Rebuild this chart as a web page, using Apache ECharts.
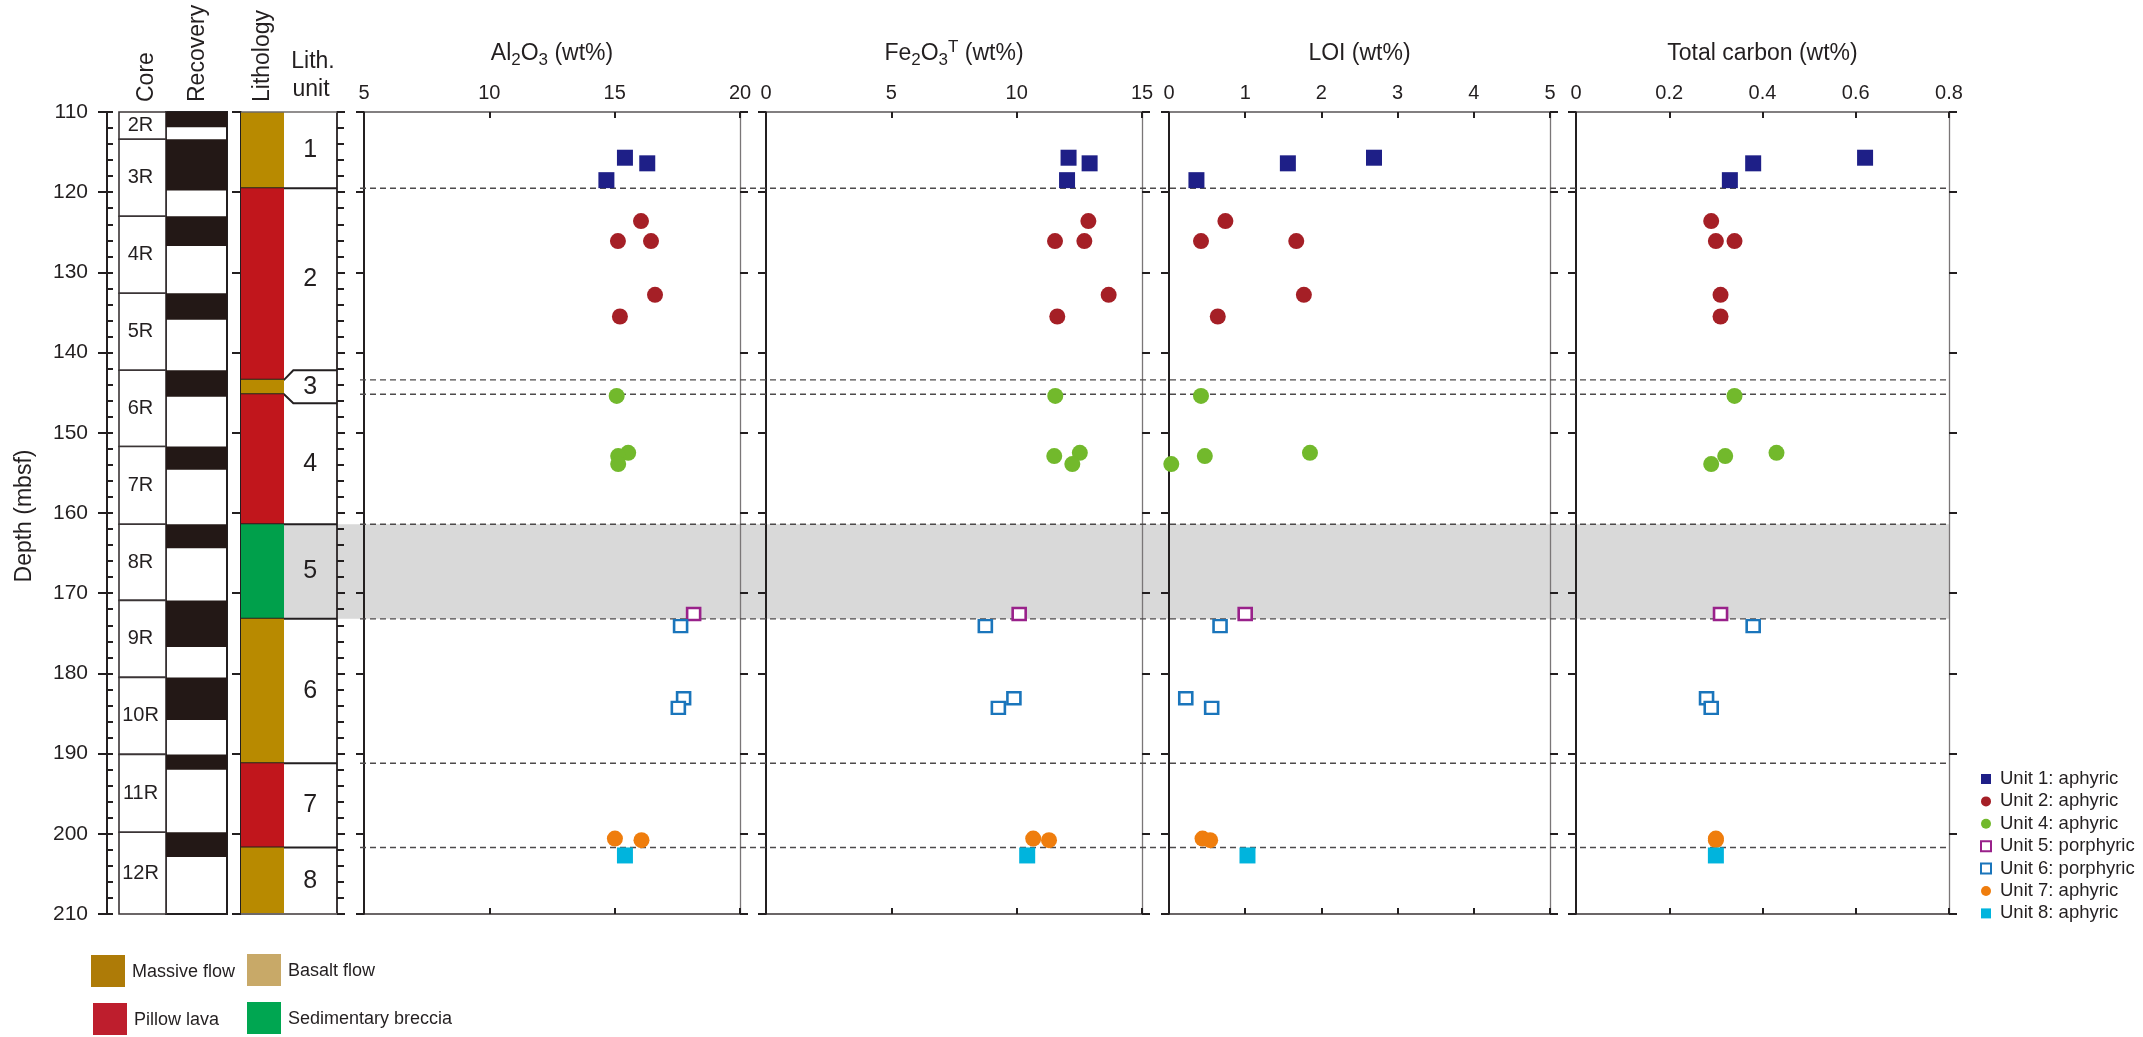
<!DOCTYPE html>
<html>
<head>
<meta charset="utf-8">
<title>Hole geochemistry downhole</title>
<script src="https://cdn.jsdelivr.net/npm/echarts@6/dist/echarts.min.js"></script>
<style>
  html, body { margin: 0; padding: 0; background: #fff; }
  #chart { width: 2143px; height: 1037px; }
</style>
</head>
<body>
<div id="chart"></div>
<script>
// ---- Cores and recovery (depths in mbsf) ----
const coreNames = ['2R', '3R', '4R', '5R', '6R', '7R', '8R', '9R', '10R', '11R', '12R'];
const coreTop = [110, 113.4, 123.0, 132.6, 142.2, 151.7, 161.4, 170.9, 180.5, 190.1, 199.8];
const coreBottom = [113.4, 123.0, 132.6, 142.2, 151.7, 161.4, 170.9, 180.5, 190.1, 199.8, 210];
const recoveredBottom = [111.9, 119.8, 126.7, 135.9, 145.5, 154.6, 164.4, 176.7, 185.8, 192.0, 202.9];

// ---- Lithologic units ----
const lithUnits = ['1', '2', '3', '4', '5', '6', '7', '8'];
const lithTop = [110, 119.5, 143.4, 145.2, 161.4, 173.2, 191.2, 201.7];
const lithBottom = [119.5, 143.4, 145.2, 161.4, 173.2, 191.2, 201.7, 210];
const lithType = ['Massive flow', 'Pillow lava', 'Massive flow', 'Pillow lava',
  'Sedimentary breccia', 'Massive flow', 'Pillow lava', 'Massive flow'];
// label box for the thin Unit 3 is widened into a callout
const unit3Callout = [142.2, 146.3];
// interval shaded across the geochemistry panels (Unit 5)
const shadedInterval = [161.4, 173.2];

// ---- Samples ----
const unitNames = ['Unit 1: aphyric', 'Unit 2: aphyric', 'Unit 4: aphyric', 'Unit 5: porphyric',
  'Unit 6: porphyric', 'Unit 7: aphyric', 'Unit 8: aphyric'];
const sampleUnit = [1, 1, 1, 2, 2, 2, 2, 2, 4, 4, 4, 4, 5, 6, 6, 6, 7, 7, 8];
const sampleDepth = [115.7, 116.4, 118.5, 123.6, 126.1, 126.1, 132.8, 135.5,
  145.4, 152.5, 152.9, 153.9, 172.6, 174.1, 183.1, 184.3, 200.6, 200.8, 202.7];
const al2o3 = [15.41, 16.30, 14.67, 16.05, 15.13, 16.45, 16.61, 15.21,
  15.08, 15.54, 15.14, 15.14, 18.15, 17.63, 17.75, 17.54, 15.01, 16.07, 15.41];
const fe2o3T = [12.07, 12.91, 12.01, 12.86, 11.53, 12.70, 13.67, 11.62,
  11.54, 12.52, 11.50, 12.22, 10.10, 8.75, 9.89, 9.27, 10.66, 11.29, 10.42];
const loi = [2.69, 1.56, 0.36, 0.74, 0.42, 1.67, 1.77, 0.64,
  0.42, 1.85, 0.47, 0.03, 1.00, 0.67, 0.22, 0.56, 0.44, 0.54, 1.03];
const totalCarbon = [0.62, 0.38, 0.33, 0.29, 0.30, 0.34, 0.31, 0.31,
  0.34, 0.43, 0.32, 0.29, 0.31, 0.38, 0.28, 0.29, 0.30, 0.30, 0.30];

// ---- Axis ticks ----
const depthRange = [110, 210];
const depthStep = 10;
const panelTitles = [
  'Al{sub|2}O{sub|3} (wt%)',
  'Fe{sub|2}O{sub|3}{sup|T} (wt%)',
  'LOI (wt%)',
  'Total carbon (wt%)'
];
const panelMin = [5, 0, 0, 0];
const panelMax = [20, 15, 5, 0.8];
const panelStep = [5, 5, 1, 0.2];
const panelValues = [al2o3, fe2o3T, loi, totalCarbon];

// ---- Styling ----
const FONT = '"Liberation Sans", Arial, Helvetica, sans-serif';
const INK = '#231f20';
const lithColors = {
  'Massive flow': '#b88a00',
  'Basalt flow': '#c8a968',
  'Pillow lava': '#c1161c',
  'Sedimentary breccia': '#00a04b'
};
const legendLithColors = {
  'Massive flow': '#ae7b07',
  'Basalt flow': '#c8a968',
  'Pillow lava': '#be1e2d',
  'Sedimentary breccia': '#00a651'
};
const unitStyles = {
  1: { symbol: 'rect', color: '#1e1f87', open: false },
  2: { symbol: 'circle', color: '#a51f26', open: false },
  4: { symbol: 'circle', color: '#72b92c', open: false },
  5: { symbol: 'rect', color: '#99218a', open: true },
  6: { symbol: 'rect', color: '#1a75bb', open: true },
  7: { symbol: 'circle', color: '#ef7d0d', open: false },
  8: { symbol: 'rect', color: '#00b4dd', open: false }
};
const unitIds = [1, 2, 4, 5, 6, 7, 8];

const TOP = 112, HEIGHT = 802;
const panelLeft = [364, 766, 1169, 1576];
const panelWidth = [376, 376, 381, 373];
const CORE_SPLIT = 0.435;   // core / recovery column split
const LITH_SPLIT = 0.448;   // colour column / unit label split

const chart = echarts.init(document.getElementById('chart'), null, { renderer: 'canvas' });

const grids = [
  { left: 284, width: 1666, top: TOP, height: HEIGHT },  // shaded band
  { left: 360, width: 1590, top: TOP, height: HEIGHT },  // unit boundaries
  { left: 119, width: 108, top: TOP, height: HEIGHT },   // core + recovery
  { left: 241, width: 96, top: TOP, height: HEIGHT }     // lithology
];
panelLeft.forEach((l, p) => grids.push({ left: l, width: panelWidth[p], top: TOP, height: HEIGHT }));

const hiddenX = (g) => ({ gridIndex: g, type: 'value', min: 0, max: 1, show: false });
const hiddenY = (g) => ({ gridIndex: g, type: 'value', min: depthRange[0], max: depthRange[1], inverse: true, show: false });
const depthAxisBase = (g) => ({
  gridIndex: g, type: 'value', min: depthRange[0], max: depthRange[1], interval: depthStep, inverse: true,
  splitLine: { show: false }, axisLabel: { show: false }
});

const xAxes = [hiddenX(0), hiddenX(1), hiddenX(2), hiddenX(3)];
const yAxes = [
  hiddenY(0), hiddenY(1),
  Object.assign(depthAxisBase(2), {
    position: 'left', offset: 12,
    axisLine: { show: true, onZero: false, lineStyle: { color: INK, width: 2 } },
    axisTick: { show: true, length: 9, lineStyle: { color: INK, width: 2 } },
    axisLabel: { show: true, fontSize: 21, color: INK, margin: 19, fontFamily: FONT }
  }),
  Object.assign(depthAxisBase(2), {
    position: 'left', offset: 12,
    axisLine: { show: false, onZero: false },
    axisTick: { show: true, inside: true, length: 6, lineStyle: { color: INK, width: 2 } },
    minorTick: { show: true, splitNumber: 5, length: 6, lineStyle: { color: INK, width: 2 } }
  }),
  Object.assign(depthAxisBase(3), {
    position: 'left',
    axisLine: { show: true, onZero: false, lineStyle: { color: INK, width: 2 } },
    axisTick: { show: true, length: 9, lineStyle: { color: INK, width: 2 } }
  }),
  Object.assign(depthAxisBase(3), {
    position: 'right',
    axisLine: { show: true, onZero: false, lineStyle: { color: '#3b3536', width: 2 } },
    axisTick: { show: true, length: 8, lineStyle: { color: INK, width: 2 } },
    minorTick: { show: true, splitNumber: 5, length: 7, lineStyle: { color: INK, width: 2 } }
  })
];

panelLeft.forEach((l, p) => {
  const g = 4 + p;
  xAxes.push({
    gridIndex: g, type: 'value', position: 'top',
    min: panelMin[p], max: panelMax[p], interval: panelStep[p],
    name: panelTitles[p], nameLocation: 'middle', nameGap: 43,
    nameTextStyle: {
      fontSize: 23, color: INK, fontFamily: FONT, lineHeight: 30,
      rich: {
        sub: { fontSize: 17, lineHeight: 17, verticalAlign: 'bottom', color: INK, fontFamily: FONT },
        sup: { fontSize: 17, lineHeight: 17, verticalAlign: 'top', color: INK, fontFamily: FONT }
      }
    },
    axisLine: { show: true, onZero: false, lineStyle: { color: '#5a5657', width: 1.5 } },
    axisTick: { show: true, inside: true, length: 6, lineStyle: { color: INK, width: 2 } },
    axisLabel: { show: true, fontSize: 20, color: INK, margin: 9, fontFamily: FONT },
    splitLine: { show: false }
  });
  xAxes.push({
    gridIndex: g, type: 'value', position: 'bottom',
    min: panelMin[p], max: panelMax[p], interval: panelStep[p],
    axisLine: { show: true, onZero: false, lineStyle: { color: '#3b3536', width: 1.5 } },
    axisTick: { show: true, inside: true, length: 6, lineStyle: { color: INK, width: 2 } },
    axisLabel: { show: false },
    splitLine: { show: false }
  });
  yAxes.push(Object.assign(depthAxisBase(g), {
    position: 'left',
    axisLine: { show: true, onZero: false, lineStyle: { color: INK, width: 2 } },
    axisTick: { show: true, length: 8, lineStyle: { color: INK, width: 2 } }
  }));
  yAxes.push(Object.assign(depthAxisBase(g), {
    position: 'right',
    axisLine: { show: true, onZero: false, lineStyle: { color: '#7a7677', width: 1.3 } },
    axisTick: { show: true, length: 8, lineStyle: { color: INK, width: 2 } }
  }));
});

const series = [];

// Shaded interval spanning the unit label column and all panels
series.push({
  type: 'custom', xAxisIndex: 0, yAxisIndex: 0, z: 0, silent: true,
  data: [[shadedInterval[0], shadedInterval[1]]],
  renderItem(params, api) {
    const a = api.coord([0, api.value(0)]);
    const b = api.coord([1, api.value(1)]);
    return { type: 'rect', shape: { x: a[0], y: a[1], width: b[0] - a[0], height: b[1] - a[1] },
      style: { fill: '#d9d9d9' } };
  }
});

// Dashed unit boundaries
series.push({
  type: 'custom', xAxisIndex: 1, yAxisIndex: 1, z: 1, silent: true,
  data: lithTop.slice(1).map(d => [0, d]),
  renderItem(params, api) {
    const a = api.coord([0, api.value(1)]);
    const b = api.coord([1, api.value(1)]);
    return { type: 'line', shape: { x1: a[0], y1: a[1], x2: b[0], y2: b[1] },
      style: { stroke: '#4d4a4b', lineWidth: 1.4, lineDash: [6, 4] } };
  }
});

// Core boxes and recovered intervals
series.push({
  type: 'custom', xAxisIndex: 2, yAxisIndex: 2, z: 3, silent: true,
  data: coreTop.map(t => [0, t]),
  renderItem(params, api) {
    const i = params.dataIndex;
    const a = api.coord([0, coreTop[i]]);
    const b = api.coord([CORE_SPLIT, coreBottom[i]]);
    const c = api.coord([CORE_SPLIT, coreTop[i]]);
    const d = api.coord([1, recoveredBottom[i]]);
    const children = [];
    if (i === 0) {
      const r0 = api.coord([CORE_SPLIT, depthRange[0]]);
      const r1 = api.coord([1, depthRange[1]]);
      children.push({ type: 'rect', shape: { x: r0[0], y: r0[1], width: r1[0] - r0[0], height: r1[1] - r0[1] },
        style: { fill: '#fff', stroke: INK, lineWidth: 2 } });
    }
    children.push({ type: 'rect', shape: { x: a[0], y: a[1], width: b[0] - a[0], height: b[1] - a[1] },
      style: { fill: '#fff', stroke: '#3b3536', lineWidth: 1.6 } });
    children.push({ type: 'rect', shape: { x: c[0], y: c[1], width: d[0] - c[0], height: d[1] - c[1] },
      style: { fill: '#231816' } });
    children.push({ type: 'text', x: (a[0] + b[0]) / 2 - 2, y: (a[1] + b[1]) / 2,
      style: { text: coreNames[i], fill: INK, font: '20px ' + FONT, align: 'center', verticalAlign: 'middle' } });
    return { type: 'group', children };
  }
});

// Lithology column and unit labels
series.push({
  type: 'custom', xAxisIndex: 3, yAxisIndex: 4, z: 3, silent: true,
  data: lithTop.map(t => [0, t]),
  renderItem(params, api) {
    const i = params.dataIndex;
    const a = api.coord([0, lithTop[i]]);
    const b = api.coord([LITH_SPLIT, lithBottom[i]]);
    const children = [];
    children.push({ type: 'rect', shape: { x: a[0], y: a[1], width: b[0] - a[0], height: b[1] - a[1] },
      style: { fill: lithColors[lithType[i]] } });
    const lineStyle = { stroke: INK, lineWidth: 2, fill: null };
    if (i === 0) {
      const l = api.coord([0, depthRange[0]]), r = api.coord([1, depthRange[0]]);
      children.push({ type: 'line', shape: { x1: l[0], y1: l[1], x2: r[0], y2: r[1] }, style: { stroke: '#6d6869', lineWidth: 1.5 } });
    }
    // bottom edge of this unit
    if (i === 1 || i === 2) {
      const edge = lithBottom[i];
      const tip = i === 1 ? unit3Callout[0] : unit3Callout[1];
      const pts = [api.coord([0, edge]), api.coord([LITH_SPLIT, edge]), api.coord([0.545, tip]), api.coord([1, tip])];
      children.push({ type: 'polyline', shape: { points: pts }, style: lineStyle });
    } else {
      const l = api.coord([0, lithBottom[i]]), r = api.coord([1, lithBottom[i]]);
      children.push({ type: 'line', shape: { x1: l[0], y1: l[1], x2: r[0], y2: r[1] },
        style: { stroke: i === lithTop.length - 1 ? '#6d6869' : INK, lineWidth: 2 } });
    }
    // label centred in its box (Unit 3 callout widens neighbouring boxes)
    let boxTop = lithTop[i], boxBottom = lithBottom[i];
    if (i === 1) boxBottom = unit3Callout[0];
    if (i === 3) boxTop = unit3Callout[1];
    const m = api.coord([0.72, (boxTop + boxBottom) / 2]);
    children.push({ type: 'text', x: m[0], y: m[1],
      style: { text: lithUnits[i], fill: INK, font: '25px ' + FONT, align: 'center', verticalAlign: 'middle' } });
    return { type: 'group', children };
  }
});

// Geochemistry scatter panels
panelValues.forEach((vals, p) => {
  unitIds.forEach((u, k) => {
    const st = unitStyles[u];
    const data = [];
    sampleUnit.forEach((su, j) => {
      if (su === u && vals[j] != null) data.push([vals[j], sampleDepth[j]]);
    });
    series.push({
      type: 'scatter', name: unitNames[k],
      xAxisIndex: 4 + 2 * p, yAxisIndex: 6 + 2 * p, z: 5,
      symbol: st.symbol,
      symbolSize: st.open ? [13, 12] : 16,
      itemStyle: st.open
        ? { color: '#ffffff', borderColor: st.color, borderWidth: 2.5, opacity: 1 }
        : { color: st.color, borderWidth: 0, opacity: 1 },
      emphasis: { disabled: true },
      data
    });
  });
});

// Header texts and lithology key
const txt = (text, x, y, opts) => ({
  type: 'text', x, y, rotation: opts.rotation || 0, silent: true,
  style: Object.assign({ text, fill: INK, font: (opts.size || 23) + 'px ' + FONT,
    align: opts.align || 'left', verticalAlign: opts.va || 'middle' }, opts.style || {})
});
const graphics = [
  txt('Core', 147, 102, { rotation: Math.PI / 2 }),
  txt('Recovery', 198, 102, { rotation: Math.PI / 2 }),
  txt('Lithology', 263, 102, { rotation: Math.PI / 2 }),
  txt('Lith.', 313, 62, { align: 'center' }),
  txt('unit', 311, 90, { align: 'center' }),
  txt('Depth (mbsf)', 25, 516, { rotation: Math.PI / 2, align: 'center' })
];
const keyItems = [
  ['Massive flow', 91, 955],
  ['Basalt flow', 247, 954],
  ['Pillow lava', 93, 1003],
  ['Sedimentary breccia', 247, 1002]
];
keyItems.forEach(([name, x, y]) => {
  graphics.push({ type: 'rect', silent: true, shape: { x, y, width: 34, height: 32 },
    style: { fill: legendLithColors[name] } });
  graphics.push(txt(name, x + 41, y + 17, { size: 18 }));
});

chart.setOption({
  animation: false,
  backgroundColor: '#ffffff',
  textStyle: { fontFamily: FONT },
  grid: grids,
  xAxis: xAxes,
  yAxis: yAxes,
  legend: {
    data: unitNames,
    orient: 'vertical',
    left: 1975, top: 764,
    itemWidth: 10, itemHeight: 10, itemGap: 2.4,
    selectedMode: false,
    textStyle: { fontSize: 18.5, lineHeight: 20, color: INK, fontFamily: FONT, padding: [0, 0, 0, 4] }
  },
  graphic: graphics,
  series
});
</script>
</body>
</html>
